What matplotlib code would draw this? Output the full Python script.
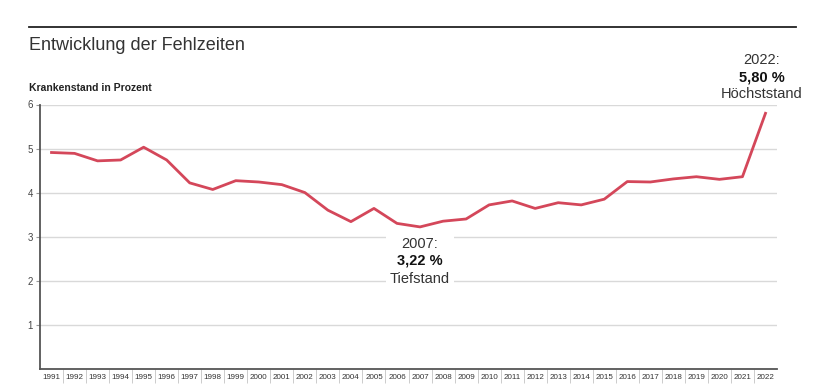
import matplotlib
matplotlib.use("Agg")
import matplotlib.pyplot as plt
from matplotlib.lines import Line2D
from matplotlib.patches import Rectangle
import numpy as np

years = [str(y) for y in range(1991, 2023)]
values = [4.91, 4.89, 4.72, 4.74, 5.03, 4.74, 4.22, 4.07, 4.27, 4.24, 4.18, 4.00,
          3.60, 3.34, 3.64, 3.30, 3.22, 3.35, 3.40, 3.72, 3.81, 3.64, 3.77, 3.72,
          3.85, 4.25, 4.24, 4.31, 4.36, 4.30, 4.36, 5.80]
yticks = [1, 2, 3, 4, 5, 6]

title = "Entwicklung der Fehlzeiten"
ylabel = "Krankenstand in Prozent"

plt.rcParams['font.family'] = ['Liberation Sans', 'DejaVu Sans']

W, H = 820, 390
fig = plt.figure(figsize=(W/100, H/100), dpi=100)
ax = fig.add_axes([40/W, 1-368.7/H, (777-40)/W, (368.7-104.5)/H])

x = np.arange(len(years))
ax.set_xlim(-0.5, len(years)-0.5)
ax.set_ylim(0, 6)

for yt in yticks:
    ax.axhline(yt, color='#d9d9d9', lw=1.0, zorder=1)

red = '#d4475a'
ax.plot(x, values, color=red, lw=2.0, zorder=3, solid_joinstyle='round')

for s in ['top', 'right']:
    ax.spines[s].set_visible(False)
for s in ['left', 'bottom']:
    ax.spines[s].set_color('#555555')
    ax.spines[s].set_linewidth(1.3)

ax.set_yticks(yticks)
ax.set_yticklabels([str(v) for v in yticks])
ax.tick_params(axis='y', length=3, width=0.8, color='#999999', labelsize=7,
               labelcolor='#444444', pad=2)
ax.set_xticks(x)
ax.set_xticklabels(years)
ax.tick_params(axis='x', length=0, labelsize=5.8, labelcolor='#333333', pad=4)
ax.set_xticks(np.arange(0.5, len(years)-0.5, 1.0), minor=True)
ax.tick_params(axis='x', which='minor', length=10, width=0.7, color='#cccccc')

# Annotation for minimum (2007)
i_min = years.index('2007')
ax.add_patch(Rectangle((i_min - 1.48, 1.86), 2.96, 1.2, fc='white', ec='none', zorder=2))
ax.text(i_min, 2.84, f"{years[i_min]}:", ha='center', va='center', fontsize=10.5,
        color='#333333', zorder=5)
ax.text(i_min, 2.45, "3,22 %", ha='center', va='center', fontsize=10.5,
        color='#111111', fontweight='bold', zorder=5)
ax.text(i_min, 2.04, "Tiefstand", ha='center', va='center', fontsize=10.5,
        color='#333333', zorder=5)

# Annotation for maximum (2022)
i_max = years.index('2022')
fig.text(762/W, 1-60/H, f"{years[i_max]}:", ha='center', va='center', fontsize=10.5, color='#333333')
fig.text(762/W, 1-77/H, "5,80 %", ha='center', va='center', fontsize=10.5, color='#111111', fontweight='bold')
fig.text(762/W, 1-94/H, "Höchststand", ha='center', va='center', fontsize=10.5, color='#333333')

# Header
fig.add_artist(Line2D([29/W, 796/W], [1-27/H, 1-27/H], color='#222222', lw=1.3))
fig.text(29/W, 1-45/H, title, ha='left', va='center', fontsize=13, color='#333333')
fig.text(29/W, 1-88/H, ylabel, ha='left', va='center', fontsize=7.5, color='#222222', fontweight='bold')

fig.savefig('out.png', dpi=100, facecolor='white')
